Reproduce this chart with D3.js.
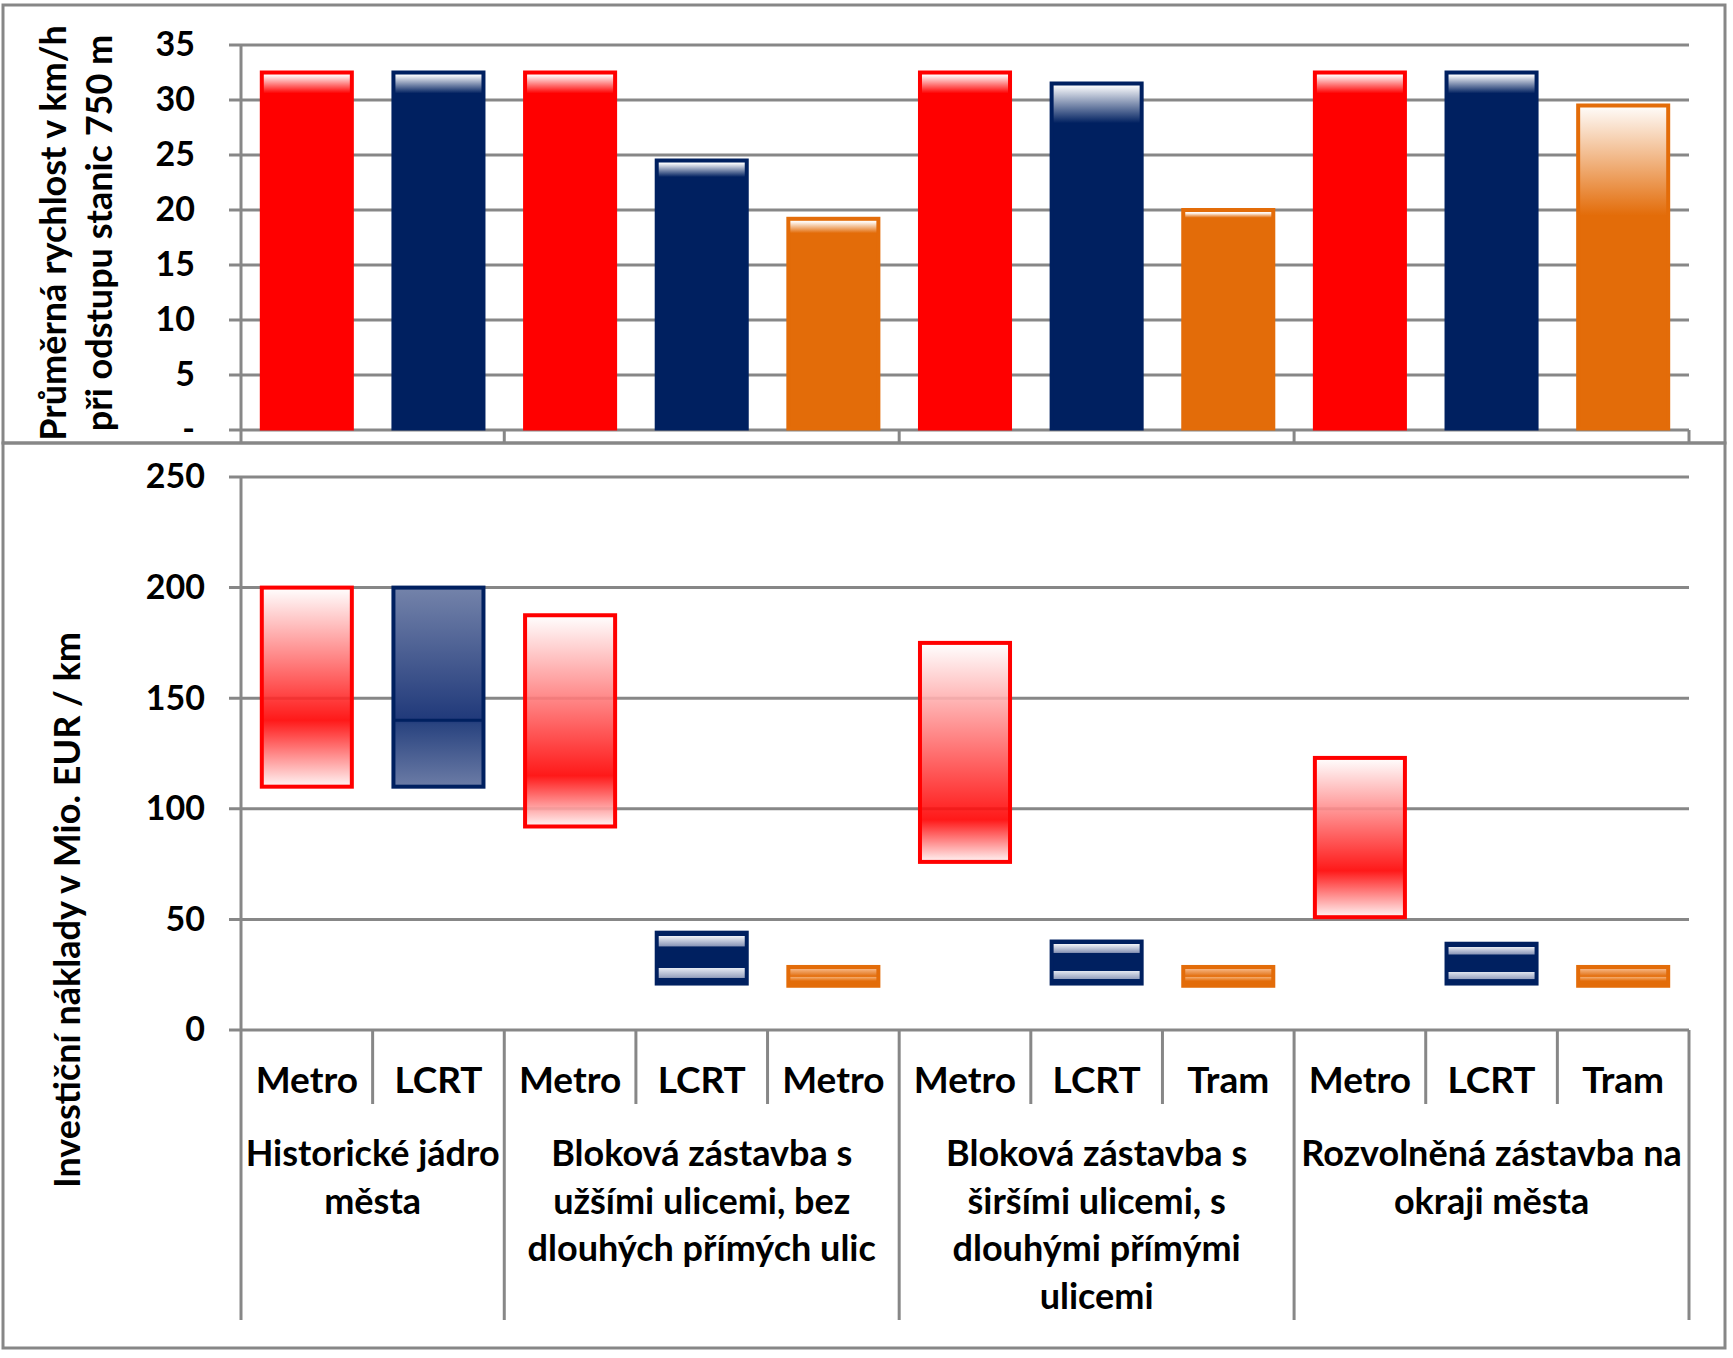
<!DOCTYPE html>
<html>
<head>
<meta charset="utf-8">
<script src="https://cdn.jsdelivr.net/npm/d3@7"></script>
<style>
  body { margin: 0; background: #fff; }
  text { font-family: Lato, "Open Sans", sans-serif; font-weight: bold; fill: #000; }
</style>
</head>
<body>
<svg id="chart"></svg>
<script>
// categories
var barLabels = ["Metro", "LCRT", "Metro", "LCRT", "Metro", "Metro", "LCRT", "Tram", "Metro", "LCRT", "Tram"]
var barKind = ["metro", "lcrt", "metro", "lcrt", "tram", "metro", "lcrt", "tram", "metro", "lcrt", "tram"]
var groupLabels = [
  ["Historické jádro", "města"],
  ["Bloková zástavba s", "užšími ulicemi, bez", "dlouhých přímých ulic"],
  ["Bloková zástavba s", "širšími ulicemi, s", "dlouhými přímými", "ulicemi"],
  ["Rozvolněná zástavba na", "okraji města"]
]
var groupStart = [0, 2, 5, 8, 11]

// top chart: average speed (km/h)
var speedMax = [32.5, 32.5, 32.5, 24.5, 19.2, 32.5, 31.5, 20, 32.5, 32.5, 29.5]
var speedFade = [30.6, 30.6, 30.6, 23, 17.9, 30.6, 27.9, 19.3, 30.6, 30.6, 19.5]
var speedTicks = [0, 5, 10, 15, 20, 25, 30, 35]

// bottom chart: investment cost (mil. EUR / km)
var costLow = [110, 110, 92, 21, 20, 76, 21, 20, 51, 21, 20]
var costHigh = [200, 200, 187.5, 44, 28.5, 175, 40, 28.5, 123, 39, 28.5]
var costMid = [140, 140, 115, 33, 24, 95, 30.5, 24, 72, 30, 24]
var costTicks = [0, 50, 100, 150, 200, 250]

var colors = { metro: "#ff0000", lcrt: "#002060", tram: "#e36c09" }
var gridColor = "#878787"

var W = 1733, H = 1358
var svg = d3.select("#chart").attr("width", W).attr("height", H)
var defs = svg.append("defs")

var plotLeft = 241, plotRight = 1689

var x = d3.scaleBand()
  .domain(d3.range(barLabels.length))
  .range([plotLeft, plotRight])
  .paddingInner(0.316)
  .paddingOuter(0.158)
var edge = function(k) { return plotLeft + (plotRight - plotLeft) * k / barLabels.length }

var yS = d3.scaleLinear().domain([0, 35]).range([430, 45])
var yC = d3.scaleLinear().domain([0, 250]).range([1030, 477])

// frames
svg.append("rect").attr("x", 3).attr("y", 5).attr("width", 1722).attr("height", 438)
  .attr("fill", "none").attr("stroke", gridColor).attr("stroke-width", 3)
svg.append("rect").attr("x", 3).attr("y", 443).attr("width", 1722).attr("height", 905)
  .attr("fill", "none").attr("stroke", gridColor).attr("stroke-width", 3)

// ---------- top chart ----------
var topG = svg.append("g")

topG.selectAll(".grid")
  .data(speedTicks)
  .enter()
  .append("line")
  .attr("x1", plotLeft - 12).attr("x2", plotRight)
  .attr("y1", function(d) { return yS(d) }).attr("y2", function(d) { return yS(d) })
  .attr("stroke", gridColor).attr("stroke-width", 3)

var yAxisS = d3.axisLeft(yS).tickValues(speedTicks).tickSize(0).tickPadding(46)
  .tickFormat(function(d) { return d === 0 ? "-" : d })
topG.append("g")
  .attr("transform", "translate(" + plotLeft + ",0)")
  .call(yAxisS)
  .call(function(g) { g.select(".domain").remove() })
  .selectAll("text").style("font-size", "34px").style("font-family", "Lato").style("font-weight", "bold")

topG.append("line").attr("x1", plotLeft).attr("x2", plotLeft).attr("y1", 45).attr("y2", 443)
  .attr("stroke", gridColor).attr("stroke-width", 3)
topG.selectAll(".gtick")
  .data(groupStart.slice(1))
  .enter()
  .append("line")
  .attr("x1", function(d) { return edge(d) }).attr("x2", function(d) { return edge(d) })
  .attr("y1", yS(0)).attr("y2", 443)
  .attr("stroke", gridColor).attr("stroke-width", 3)

speedMax.forEach(function(v, i) {
  var c = colors[barKind[i]]
  var g = defs.append("linearGradient").attr("id", "sg" + i)
    .attr("gradientUnits", "userSpaceOnUse")
    .attr("x1", 0).attr("x2", 0).attr("y1", yS(v) + 3).attr("y2", yS(speedFade[i]))
  g.append("stop").attr("offset", 0).attr("stop-color", d3.interpolateRgb(c, "#fff")(0.96))
  g.append("stop").attr("offset", 1).attr("stop-color", c)
})

topG.selectAll(".bar")
  .data(speedMax)
  .enter()
  .append("rect")
  .attr("x", function(d, i) { return x(i) })
  .attr("y", function(d) { return yS(d) })
  .attr("width", x.bandwidth())
  .attr("height", function(d) { return yS(0) - yS(d) - 1.5 })
  .attr("fill", function(d, i) { return "url(#sg" + i + ")" })
  .attr("stroke", function(d, i) { return colors[barKind[i]] })
  .attr("stroke-width", 4)

topG.append("text")
  .attr("transform", "translate(52,233) rotate(-90)")
  .attr("text-anchor", "middle").attr("dominant-baseline", "central")
  .style("font-size", "36px")
  .text("Průměrná rychlost v km/h")
topG.append("text")
  .attr("transform", "translate(98,233) rotate(-90)")
  .attr("text-anchor", "middle").attr("dominant-baseline", "central")
  .style("font-size", "36px")
  .text("při odstupu stanic 750 m")

// ---------- bottom chart ----------
var botG = svg.append("g")

botG.selectAll(".grid")
  .data(costTicks)
  .enter()
  .append("line")
  .attr("x1", plotLeft - 12).attr("x2", plotRight)
  .attr("y1", function(d) { return yC(d) }).attr("y2", function(d) { return yC(d) })
  .attr("stroke", gridColor).attr("stroke-width", 3)

var yAxisC = d3.axisLeft(yC).tickValues(costTicks).tickSize(0).tickPadding(36)
botG.append("g")
  .attr("transform", "translate(" + plotLeft + ",0)")
  .call(yAxisC)
  .call(function(g) { g.select(".domain").remove() })
  .selectAll("text").style("font-size", "34px").style("font-family", "Lato").style("font-weight", "bold")

botG.append("line").attr("x1", plotLeft).attr("x2", plotLeft).attr("y1", yC(250)).attr("y2", 1320)
  .attr("stroke", gridColor).attr("stroke-width", 3)

// tick marks between bars and between groups
var inner = d3.range(1, barLabels.length + 1).filter(function(k) { return groupStart.indexOf(k) < 0 })
botG.selectAll(".btick")
  .data(inner)
  .enter()
  .append("line")
  .attr("x1", function(d) { return edge(d) }).attr("x2", function(d) { return edge(d) })
  .attr("y1", yC(0)).attr("y2", 1104)
  .attr("stroke", gridColor).attr("stroke-width", 3)
botG.selectAll(".gtick")
  .data(groupStart.slice(1))
  .enter()
  .append("line")
  .attr("x1", function(d) { return edge(d) }).attr("x2", function(d) { return edge(d) })
  .attr("y1", yC(0)).attr("y2", 1320)
  .attr("stroke", gridColor).attr("stroke-width", 3)

// gradients for the cost ranges
costLow.forEach(function(lo, i) {
  var hi = costHigh[i], kind = barKind[i]
  var g = defs.append("linearGradient").attr("id", "cg" + i)
    .attr("gradientUnits", "userSpaceOnUse")
    .attr("x1", 0).attr("x2", 0).attr("y1", yC(hi)).attr("y2", yC(lo))
  var k = (yC(costMid[i]) - yC(hi)) / (yC(lo) - yC(hi))
  var stops
  if (kind === "metro") {
    stops = [[0, "#ffffff"], [k, "#ff0000"], [1, "#fff4f4"]]
  } else if (kind === "lcrt" && hi - lo > 50) {
    stops = [[0, "#7483aa"], [k, "#20397a"], [k + 0.02, "#2a4480"], [1, "#6c7ca6"]]
  } else if (kind === "lcrt") {
    stops = [[0, "#002060"], [0.07, "#002060"], [0.07, "#eef0f6"], [0.26, "#8c98b9"], [0.28, "#002060"],
             [0.7, "#002060"], [0.7, "#e4e8f1"], [0.88, "#98a3c0"], [0.9, "#002060"], [1, "#002060"]]
  } else {
    stops = [[0, "#e36c09"], [0.12, "#e36c09"], [0.12, "#f6b37e"], [0.35, "#e98a3c"], [0.5, "#e36c09"],
             [0.55, "#f3a868"], [0.75, "#e36c09"], [1, "#e36c09"]]
  }
  stops.forEach(function(s) {
    g.append("stop").attr("offset", Math.min(1, s[0])).attr("stop-color", s[1])
  })
})

botG.selectAll(".range")
  .data(costLow)
  .enter()
  .append("rect")
  .attr("x", function(d, i) { return x(i) })
  .attr("y", function(d, i) { return yC(costHigh[i]) })
  .attr("width", x.bandwidth())
  .attr("height", function(d, i) { return yC(d) - yC(costHigh[i]) })
  .attr("fill", function(d, i) { return "url(#cg" + i + ")" })
  .attr("fill-opacity", function(d, i) { return barKind[i] === "metro" ? 0.9 : 1 })
  .attr("stroke", function(d, i) { return colors[barKind[i]] })
  .attr("stroke-width", 4)

// divider inside the big LCRT range
botG.selectAll(".mid")
  .data(costMid.filter(function(d, i) { return barKind[i] === "lcrt" && costHigh[i] - costLow[i] > 50 }))
  .enter()
  .append("line")
  .attr("x1", x(1)).attr("x2", x(1) + x.bandwidth())
  .attr("y1", function(d) { return yC(d) }).attr("y2", function(d) { return yC(d) })
  .attr("stroke", colors.lcrt).attr("stroke-width", 3)

// category labels
botG.selectAll(".blabel")
  .data(barLabels)
  .enter()
  .append("text")
  .attr("x", function(d, i) { return x(i) + x.bandwidth() / 2 })
  .attr("y", 1078)
  .attr("text-anchor", "middle").attr("dominant-baseline", "central")
  .style("font-size", "37px")
  .text(function(d) { return d })

groupLabels.forEach(function(lines, gi) {
  var cx = (edge(groupStart[gi]) + edge(groupStart[gi + 1])) / 2
  botG.append("text")
    .attr("x", cx).attr("y", 1152)
    .attr("text-anchor", "middle").attr("dominant-baseline", "central")
    .style("font-size", "36px")
    .selectAll("tspan")
    .data(lines)
    .enter()
    .append("tspan")
    .attr("x", cx)
    .attr("dy", function(d, i) { return i === 0 ? 0 : 47.5 })
    .text(function(d) { return d })
})

botG.append("text")
  .attr("transform", "translate(66,910) rotate(-90)")
  .attr("text-anchor", "middle").attr("dominant-baseline", "central")
  .style("font-size", "36px")
  .text("Investiční náklady v Mio. EUR / km")
</script>
</body>
</html>
